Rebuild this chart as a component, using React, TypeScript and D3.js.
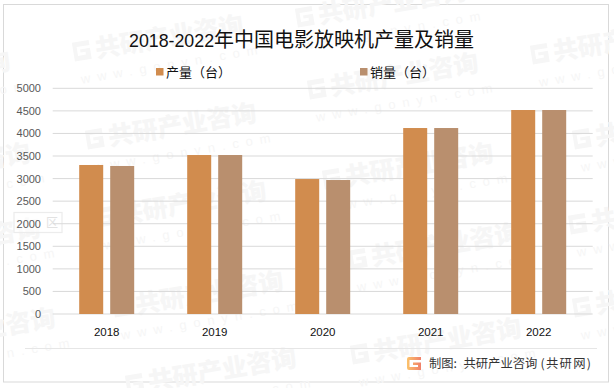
import React from "react";
import * as d3 from "d3";

const categories = ["2018", "2019", "2020", "2021", "2022"];
const seriesNames = ["产量（台）", "销量（台）"];
const production = [3301, 3522, 2990, 4120, 4519];
const sales = [3279, 3522, 2968, 4120, 4519];
const yTicks = [0, 500, 1000, 1500, 2000, 2500, 3000, 3500, 4000, 4500, 5000];
const colors = ["#D18C4E", "#B98F6E"];
const watermarkAnchors: [number, number][] = [
  [-161, 98], [-141, 190], [-131, 265], [-116, 355],
  [72, 62], [85, 150], [95, 228], [112, 318], [125, 395],
  [295, 28], [307, 100], [322, 190], [348, 270], [350, 365],
  [530, 65], [572, 150], [568, 235], [572, 318],
];

const CJK = '"Noto Sans CJK SC", "Noto Sans", sans-serif';
const NUM = '"Liberation Sans", Arial, sans-serif';
const WM = "#f6f6f6";

function Watermark({ x, y }: { x: number; y: number }) {
  return (
    <g transform={`translate(${x},${y}) rotate(-9.5)`} fill={WM}>
      <path d="M3 -19H20V-14H7V-5H15V-8H10V-11H20V0H3Z" />
      <text x={25} y={0} fontFamily={CJK} fontWeight={900} fontSize={25}>共研产业咨询</text>
      <text x={6} y={23} fontFamily={NUM} fontSize={13} letterSpacing={7}>www.gonyn.com</text>
    </g>
  );
}

export default function App() {
  const x0 = d3.scaleBand<string>().domain(categories).range([52.7, 592.7]);
  const y = d3.scaleLinear().domain([0, 5000]).range([314, 88.3]);
  const x1 = d3.scaleBand<number>().domain([0, 1]).range([0, 55]).paddingInner(7 / 31);
  return (
    <svg width={614} height={388} viewBox="0 0 614 388"
      style={{ position: "absolute", left: 0, top: 0, display: "block", background: "#fff" }}>
      <defs>
        <linearGradient id="logo" x1="0" x2="1" y1="0" y2="0">
          <stop offset="0" stopColor="#FBC36B" />
          <stop offset="1" stopColor="#F0806A" />
        </linearGradient>
      </defs>
      <rect x={3.5} y={4.5} width={605} height={377.5} fill="#fff" stroke="#d9d9d9" strokeWidth={1} />
      <g>
        {watermarkAnchors.map(([a, b], i) => <Watermark key={i} x={a} y={b} />)}
      </g>
      <rect x={14} y={212.5} width={48} height={20} fill="#fff" fillOpacity={0.5} stroke="#ececec" strokeWidth={1.2} />
      <text x={46} y={227} fontFamily={CJK} fontSize={12} fill="#e2e2e2">区</text>

      {yTicks.map((t) => (
        <g key={t}>
          <line x1={52.7} x2={592.7} y1={y(t)} y2={y(t)} stroke="#d9d9d9" strokeWidth={1} />
          <text x={41} y={y(t) + 4} textAnchor="end" fontFamily={NUM} fontSize={11} fill="#595959">{t}</text>
        </g>
      ))}
      {categories.map((c, i) => (
        <g key={c} transform={`translate(${x0(c)! + (108 - 55) / 2},0)`}>
          {[production[i], sales[i]].map((v, s) => (
            <rect key={s} x={x1(s)} y={y(v)} width={x1.bandwidth()} height={y(0) - y(v)} fill={colors[s]} />
          ))}
          <text x={27.5} y={336} textAnchor="middle" fontFamily={NUM} fontSize={11.5} fill="#111">{c}</text>
        </g>
      ))}

      <text x={129} y={47} fontFamily={CJK} fontSize={20} fill="#111">
        <tspan fontFamily={NUM} fontSize={17.8}>2018-2022</tspan>年中国电影放映机产量及销量
      </text>
      {seriesNames.map((n, i) => (
        <g key={n} transform={`translate(${i === 0 ? 156 : 360},68)`}>
          <rect width={7.5} height={7.5} fill={colors[i]} />
          <text x={10} y={9} fontFamily={CJK} fontSize={13} fill="#111">{n}</text>
        </g>
      ))}
      <line x1={25} x2={597} y1={348.5} y2={348.5} stroke="#e6e6e6" />
      <path fillRule="evenodd" fill="url(#logo)"
        d="M407 359q0-2 2-2H421V360H409.5V367H418V365H413V362.5H421V370H409q-2 0-2-2Z" />
      <text y={367.5} fontFamily={CJK} fontSize={12.3} fill="#333">
        <tspan x={429}>制图:</tspan>
        <tspan x={463.5}>共研产业咨询</tspan>
        <tspan x={540.5} letterSpacing={1.3}>(共研网)</tspan>
      </text>
    </svg>
  );
}
